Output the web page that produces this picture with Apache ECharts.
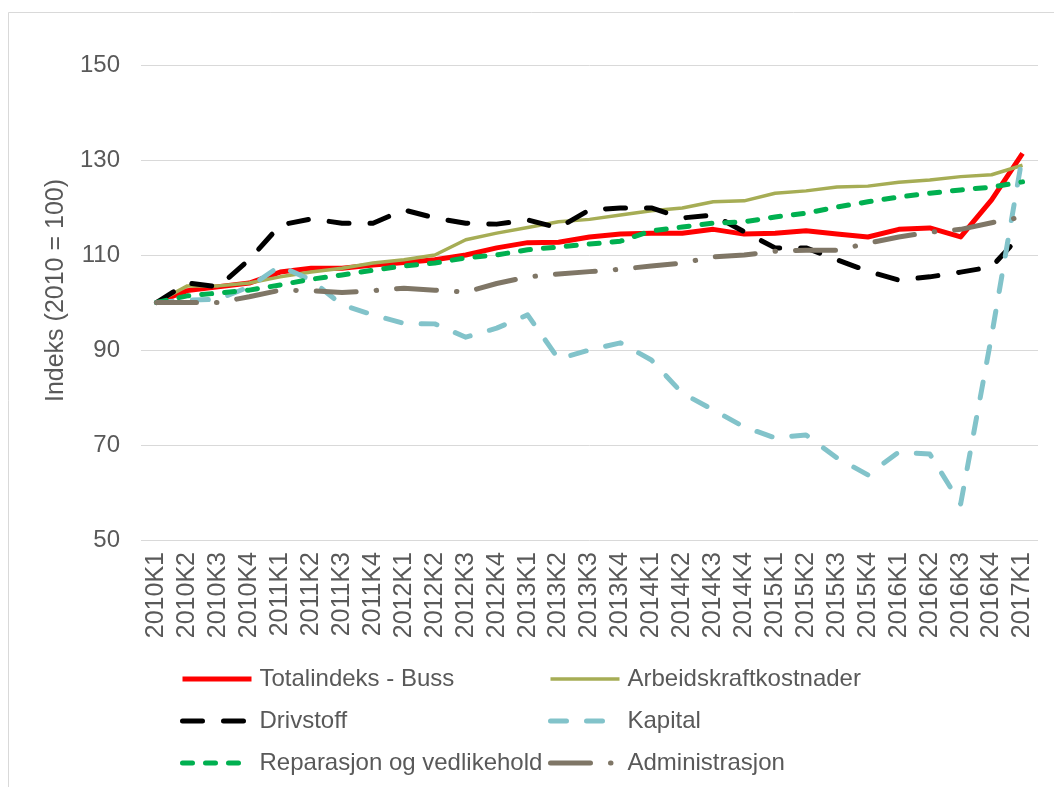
<!DOCTYPE html>
<html>

<head>
    <meta charset="UTF-8">
    <title>Indeks buss</title>
    <style>
        body { margin: 0; background: #fff; }
    </style>
</head>

<body>
    <div id="container" style="width: 1054px;height: 787px;"></div>
    <script src="https://cdn.jsdelivr.net/npm/echarts@6/dist/echarts.min.js"></script>
    <script type="text/javascript">
        // kvartaler
        var categories = ['2010K1', '2010K2', '2010K3', '2010K4', '2011K1', '2011K2', '2011K3', '2011K4',
            '2012K1', '2012K2', '2012K3', '2012K4', '2013K1', '2013K2', '2013K3', '2013K4',
            '2014K1', '2014K2', '2014K3', '2014K4', '2015K1', '2015K2', '2015K3', '2015K4',
            '2016K1', '2016K2', '2016K3', '2016K4', '2017K1'];

        var totalindeks = [100, 102.5, 103.3, 104.1, 106.4, 107.2, 107.2, 107.9, 108.4, 109.0, 110.0, 111.5, 112.6, 112.7,
            113.8, 114.4, 114.6, 114.6, 115.4, 114.4, 114.6, 115.1, 114.4, 113.8, 115.4, 115.7, 113.8, 121.6, 131.4];
        var arbeidskraft = [100, 103.5, 103.5, 104.1, 105.4, 106.4, 107.2, 108.3, 109.0, 110.0, 113.2, 114.6, 115.8, 117.0,
            117.5, 118.4, 119.3, 119.9, 121.2, 121.4, 123.0, 123.5, 124.3, 124.5, 125.3, 125.8, 126.5, 126.9, 128.9];
        var drivstoff = [100, 104.1, 103.3, 109.0, 116.3, 117.6, 116.7, 116.7, 119.5, 117.8, 116.7, 116.5, 117.4, 115.7,
            119.5, 119.9, 119.9, 117.8, 118.4, 114.9, 111.5, 111.5, 109.0, 106.6, 104.7, 105.4, 106.4, 107.5, 114.6];
        var kapital = [100, 100.5, 100.7, 103.3, 107.7, 104.7, 99.5, 97.4, 95.6, 95.5, 92.7, 94.6, 97.4, 88.1,
            90.0, 91.5, 87.9, 80.9, 77.4, 73.8, 71.5, 72.1, 67.3, 63.7, 68.5, 68.1, 57.6, 93.0, 131.0];
        var reparasjon = [100, 101.4, 102.0, 102.6, 103.7, 104.9, 105.8, 106.8, 107.7, 108.3, 109.4, 110.0, 111.1, 111.7,
            112.3, 112.9, 115.1, 115.9, 116.7, 117.0, 118.0, 118.8, 120.1, 121.2, 122.2, 123.0, 123.7, 124.3, 125.4];
        var administrasjon = [100, 100, 100, 101.2, 102.6, 102.5, 102.1, 102.5, 103.0, 102.6, 102.2, 104.0, 105.4, 106.0,
            106.5, 107.0, 107.7, 108.3, 109.6, 110.0, 110.8, 111.0, 111.0, 112.5, 113.8, 114.8, 115.4, 116.8, 118.0];

        var yTicks = [50, 70, 90, 110, 130, 150];

        var textColor = '#595959';
        var fontFam = '"Liberation Sans", Arial, sans-serif';

        // navn, farge, bredde, strek
        var styles = {
            'Totalindeks - Buss': ['#ff0000', 5, null],
            'Arbeidskraftkostnader': ['#a6ad55', 3.5, null],
            'Drivstoff': ['#000000', 5, [20, 21]],
            'Kapital': ['#82c3ca', 5, [16, 20]],
            'Reparasjon og vedlikehold': ['#00b050', 5, [10, 13]],
            'Administrasjon': ['#7f7666', 5, [40, 20, 0.5, 20]]
        };

        function lineStyleOf(name) {
            var s = styles[name];
            return {
                color: s[0],
                width: s[1],
                type: s[2] || 'solid',
                cap: s[2] ? 'round' : 'butt',
                join: 'round'
            };
        }

        function lineSerie(name, data) {
            return {
                name: name,
                type: 'line',
                data: data,
                symbol: 'none',
                itemStyle: { color: styles[name][0] },
                lineStyle: lineStyleOf(name)
            };
        }

        function legendItems(names) {
            return names.map(function (n) {
                return { name: n, lineStyle: lineStyleOf(n), itemStyle: { opacity: 0 } };
            });
        }

        function legendBlock(left, names) {
            return {
                orient: 'vertical',
                left: left,
                top: 667,
                padding: 0,
                itemWidth: 69,
                itemHeight: 14,
                itemGap: 18,
                itemStyle: { opacity: 0 },
                textStyle: { color: textColor, fontSize: 24, lineHeight: 24, padding: [0, 0, 0, 3] },
                data: legendItems(names)
            };
        }

        var myChart = echarts.init(document.getElementById('container'));
        var option = {
            animation: false,
            backgroundColor: '#fff',
            textStyle: { fontFamily: fontFam },
            graphic: [{
                type: 'rect',
                shape: { x: 8.5, y: 12.5, width: 1200, height: 900 },
                style: { fill: 'none', stroke: '#d9d9d9', lineWidth: 1 },
                silent: true
            }],
            grid: { left: 141, right: 16, top: 65, bottom: 247 },
            legend: [
                legendBlock(180, ['Totalindeks - Buss', 'Drivstoff', 'Reparasjon og vedlikehold']),
                legendBlock(548, ['Arbeidskraftkostnader', 'Kapital', 'Administrasjon'])
            ],
            xAxis: {
                type: 'category',
                data: categories,
                boundaryGap: true,
                axisLine: { show: false },
                axisTick: { show: false },
                axisLabel: {
                    rotate: 90,
                    margin: 12,
                    color: textColor,
                    fontSize: 25,
                    interval: 0
                }
            },
            yAxis: {
                type: 'value',
                min: yTicks[0],
                max: yTicks[yTicks.length - 1],
                interval: 20,
                name: 'Indeks (2010 = 100)',
                nameLocation: 'middle',
                nameGap: 69,
                nameTextStyle: { color: textColor, fontSize: 25, padding: [0, 0, 0, 24] },
                axisLine: { show: false },
                axisTick: { show: false },
                axisLabel: { color: textColor, fontSize: 24, margin: 21 },
                splitLine: { lineStyle: { color: '#d9d9d9', width: 1 } }
            },
            series: [
                lineSerie('Totalindeks - Buss', totalindeks),
                lineSerie('Arbeidskraftkostnader', arbeidskraft),
                lineSerie('Drivstoff', drivstoff),
                lineSerie('Kapital', kapital),
                lineSerie('Reparasjon og vedlikehold', reparasjon),
                lineSerie('Administrasjon', administrasjon)
            ]
        };
        myChart.setOption(option);
    </script>
</body>

</html>
